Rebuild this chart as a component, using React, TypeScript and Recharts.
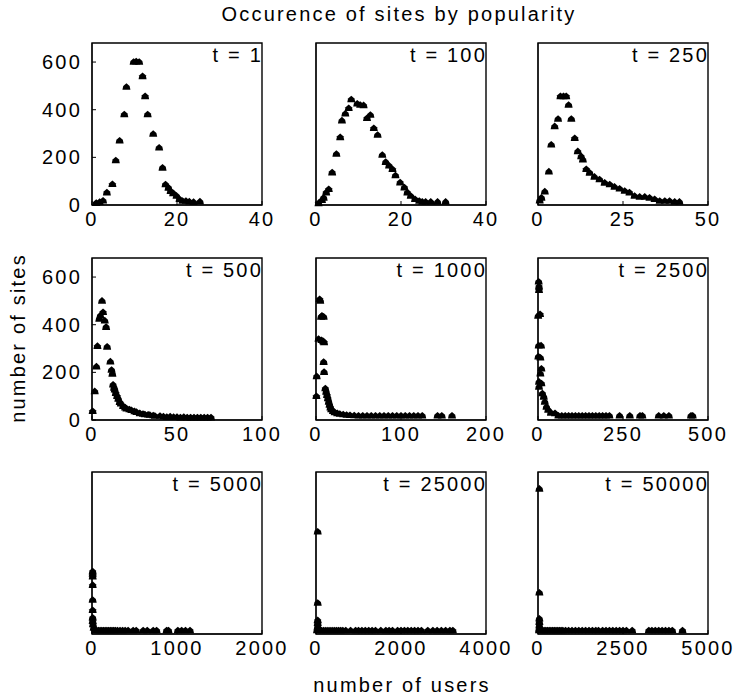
import { ScatterChart, Scatter, XAxis, YAxis, ReferenceArea } from "recharts"

const FONT = '"Liberation Sans", Arial, Helvetica, sans-serif'
const TEXT_STYLE = { fontFamily: FONT, fontSize: 20, letterSpacing: 2.2, fill: "#000" }

// t = 1
const t1Users = [1, 1.8, 2.6, 3.5, 4.8, 5.6, 6.5, 7.6, 8.1, 9.8, 10.4, 11.1, 11.9, 12.5, 13.1, 14.4, 15.8, 16.6, 17.3, 18, 18.5, 19.1, 19.9, 20.6, 21.3, 22.1, 22.9, 23.9, 25.4]
const t1Sites = [8, 12, 18, 52, 87, 187, 270, 380, 495, 600, 602, 600, 540, 456, 380, 298, 240, 156, 86, 72, 58, 49, 38, 24, 17, 17, 14, 12, 14]

// t = 100
const t100Users = [0.6, 1.4, 1.8, 2.4, 3, 3.8, 4.8, 5.7, 6.1, 6.9, 7.7, 8.3, 9.7, 10.4, 11.2, 12, 12.8, 13.6, 14.5, 15.6, 16.4, 17.2, 18, 18.7, 19.8, 20.8, 21.5, 22.3, 23.3, 24.3, 25, 25.8, 27, 28.6, 30.5]
const t100Sites = [7, 20, 30, 52, 66, 136, 214, 284, 354, 383, 406, 443, 425, 420, 418, 364, 378, 322, 294, 210, 180, 165, 150, 124, 94, 73, 52, 38, 24, 17, 13, 13, 13, 13, 13]

// t = 250
const t250Users = [0.5, 1, 2, 3.2, 3.9, 4.9, 5.9, 6.6, 7.5, 8.3, 9, 9.8, 10.8, 11.7, 12.7, 13.2, 14.2, 15.2, 16.6, 18.1, 19.6, 21.1, 22.5, 24, 25.5, 26.9, 28.4, 29.9, 31.4, 32.8, 34.3, 35.8, 37.3, 38.7, 40.2, 41.6]
const t250Sites = [18, 30, 56, 140, 253, 330, 361, 456, 456, 456, 420, 361, 280, 225, 204, 190, 150, 135, 118, 107, 93, 86, 76, 68, 59, 52, 38, 34, 34, 30, 24, 17, 17, 17, 13, 13]

// t = 500
const t500Users = [0.4, 1.6, 2.6, 3.2, 4.3, 4.9, 5.9, 6.5, 7.5, 8.3, 8.9, 10.8, 11.5, 12, 12.4, 13, 13.4, 14, 14.8, 15.5, 16.3, 17, 18.3, 19.5, 20.3, 22, 23.2, 25, 26.2, 28.1, 30, 31.1, 33, 34, 36, 37, 40, 42, 44, 46, 48, 50, 52, 54, 56, 58, 60, 62, 64, 66, 68, 70]
const t500Sites = [37, 120, 224, 310, 424, 438, 500, 452, 417, 390, 307, 245, 210, 193, 148, 135, 127, 112, 100, 88, 75, 68, 58, 52, 47, 44, 41, 36, 33, 28, 25, 23, 22, 21, 19, 17, 17, 14, 12, 14, 12, 12, 10, 12, 10, 10, 10, 10, 10, 10, 10, 10]

// t = 1000
const t1000Users = [0.5, 0.8, 3, 4.3, 5, 6, 7, 9, 6.5, 8.5, 9.5, 9, 9.5, 11, 12, 13, 14, 15, 16, 17, 18, 20, 22, 25, 28, 32, 36, 40, 45, 50, 55, 60, 65, 70, 75, 80, 85, 90, 95, 100, 105, 110, 115, 120, 125, 143, 148, 160]
const t1000Sites = [100, 183, 340, 507, 500, 433, 437, 433, 335, 330, 326, 243, 201, 132, 118, 104, 90, 76, 63, 52, 44, 37, 32, 28, 25, 23, 21, 20, 19, 18, 18, 18, 18, 18, 18, 18, 18, 18, 18, 18, 18, 18, 18, 18, 18, 18, 18, 18]

// t = 2500
const t2500Users = [2, 3, 3, 0.5, 6, 2, 9, 1, 7, 10, 7, 3, 3, 10, 13, 17, 20, 25, 30, 38, 50, 60, 70, 80, 90, 100, 110, 120, 130, 140, 150, 160, 170, 180, 190, 200, 210, 240, 270, 300, 307, 355, 370, 385, 450, 455]
const t2500Sites = [580, 560, 545, 437, 444, 312, 312, 266, 261, 215, 194, 160, 139, 153, 111, 97, 76, 55, 42, 30, 28, 18, 18, 18, 18, 18, 18, 18, 18, 18, 18, 18, 18, 18, 18, 18, 18, 18, 18, 18, 18, 18, 18, 18, 18, 18]

// t = 5000
const t5000Users = [8, 8, 8, 8, 8, 8, 8, 8, 12, 20, 35, 55, 75, 95, 115, 135, 155, 175, 195, 215, 235, 255, 275, 300, 330, 360, 390, 425, 484, 520, 602, 650, 720, 760, 878, 900, 1010, 1055, 1100, 1153]
const t5000Sites = [262, 252, 240, 205, 143, 100, 68, 54, 40, 25, 15, 15, 15, 15, 15, 15, 15, 15, 15, 15, 15, 15, 15, 15, 15, 15, 15, 15, 15, 15, 15, 15, 15, 15, 15, 15, 15, 15, 15, 15]

// t = 25000
const t25000Users = [40, 40, 40, 40, 40, 50, 24, 80, 130, 180, 230, 280, 330, 380, 430, 480, 530, 580, 630, 700, 814, 932, 1000, 1080, 1160, 1240, 1320, 1400, 1525, 1643, 1720, 1800, 1920, 2000, 2080, 2160, 2240, 2320, 2400, 2480, 2630, 2750, 2850, 2950, 3050, 3150, 3220]
const t25000Sites = [429, 130, 57, 45, 31, 21, 15, 15, 15, 15, 15, 15, 15, 15, 15, 15, 15, 15, 15, 15, 15, 15, 15, 15, 15, 15, 15, 15, 15, 15, 15, 15, 15, 15, 15, 15, 15, 15, 15, 15, 15, 15, 15, 15, 15, 15, 15]

// t = 50000
const t50000Users = [40, 40, 40, 40, 40, 40, 30, 80, 130, 180, 230, 280, 330, 380, 430, 480, 530, 580, 630, 680, 730, 810, 900, 1000, 1100, 1200, 1300, 1400, 1500, 1600, 1700, 1780, 1900, 2000, 2100, 2200, 2300, 2400, 2500, 2600, 2770, 3260, 3350, 3450, 3550, 3650, 3750, 3850, 3950, 4250]
const t50000Sites = [609, 173, 64, 50, 35, 21, 15, 15, 15, 15, 15, 15, 15, 15, 15, 15, 15, 15, 15, 15, 15, 15, 15, 15, 15, 15, 15, 15, 15, 15, 15, 15, 15, 15, 15, 15, 15, 15, 15, 15, 15, 15, 15, 15, 15, 15, 15, 15, 15, 15]

const siteTicks = [0, 200, 400, 600]
const Y_MAX = 680

const COL_LEFT = [92, 316, 538]
const ROW_TOP = [43, 258, 472]
const BOX_W = 170
const BOX_H = 162
const AXIS_W = 60
const AXIS_H = 35

const panels = [
  { label: "t = 1", users: t1Users, sites: t1Sites, xTicks: [0, 20, 40], row: 0, col: 0 },
  { label: "t = 100", users: t100Users, sites: t100Sites, xTicks: [0, 20, 40], row: 0, col: 1 },
  { label: "t = 250", users: t250Users, sites: t250Sites, xTicks: [0, 25, 50], row: 0, col: 2 },
  { label: "t = 500", users: t500Users, sites: t500Sites, xTicks: [0, 50, 100], row: 1, col: 0 },
  { label: "t = 1000", users: t1000Users, sites: t1000Sites, xTicks: [0, 100, 200], row: 1, col: 1 },
  { label: "t = 2500", users: t2500Users, sites: t2500Sites, xTicks: [0, 250, 500], row: 1, col: 2 },
  { label: "t = 5000", users: t5000Users, sites: t5000Sites, xTicks: [0, 1000, 2000], row: 2, col: 0 },
  { label: "t = 25000", users: t25000Users, sites: t25000Sites, xTicks: [0, 2000, 4000], row: 2, col: 1 },
  { label: "t = 50000", users: t50000Users, sites: t50000Sites, xTicks: [0, 2500, 5000], row: 2, col: 2 },
]

const Marker = (props: any) => {
  const { cx, cy } = props
  if (cx == null || cy == null) return null
  return (
    <path
      d={`M${cx - 4},${cy + 2.8} L${cx + 4},${cy + 2.8} L${cx + 3.2},${cy - 1} L${cx},${cy - 3.8} L${cx - 3.2},${cy - 1} Z`}
      fill="#000"
    />
  )
}

function Panel({ users, sites, xTicks, row, col }: (typeof panels)[number]) {
  const data = users.map((u, i) => ({ users: u, sites: sites[i] }))
  const xMax = xTicks[xTicks.length - 1]
  const yLabels = col === 0 && row < 2
  const yTickMarks = row < 2
  const tickFont = { fontFamily: FONT, fontSize: 20, letterSpacing: 2.2, fill: "#000" }

  return (
    <div style={{ position: "absolute", left: COL_LEFT[col] - AXIS_W, top: ROW_TOP[row] - 5 }}>
      <ScatterChart
        width={AXIS_W + BOX_W + 30}
        height={5 + BOX_H + AXIS_H}
        margin={{ top: 5, right: 30, bottom: 0, left: 0 }}
      >
        <XAxis
          type="number"
          dataKey="users"
          domain={[0, xMax]}
          ticks={xTicks}
          interval={0}
          height={AXIS_H}
          tickSize={-4}
          tickMargin={11}
          stroke="#000"
          tick={tickFont}
        />
        <YAxis
          type="number"
          dataKey="sites"
          domain={[0, Y_MAX]}
          ticks={siteTicks}
          interval={0}
          width={AXIS_W}
          tickSize={-4}
          tickMargin={14}
          tickLine={yTickMarks}
          tick={yLabels ? tickFont : false}
          stroke="#000"
        />
        <ReferenceArea
          x1={0}
          x2={xMax}
          y1={0}
          y2={Y_MAX}
          fill="none"
          fillOpacity={0}
          stroke="#000"
          strokeWidth={1.4}
          strokeOpacity={1}
        />
        <Scatter data={data} fill="#000" shape={Marker} isAnimationActive={false} />
      </ScatterChart>
    </div>
  )
}

export default function App() {
  return (
    <div style={{ position: "absolute", left: 0, top: 0, width: 735, height: 697, background: "#fff" }}>
      {panels.map((p) => (
        <Panel key={p.label} {...p} />
      ))}
      <svg
        width={735}
        height={697}
        style={{ position: "absolute", left: 0, top: 0, pointerEvents: "none" }}
      >
        <text x={399} y={21} textAnchor="middle" style={TEXT_STYLE}>
          Occurence of sites by popularity
        </text>
        <text x={402} y={692} textAnchor="middle" style={TEXT_STYLE}>
          number of users
        </text>
        <text transform="translate(25,338) rotate(-90)" textAnchor="middle" style={TEXT_STYLE}>
          number of sites
        </text>
        {panels.map((p) => (
          <text
            key={p.label}
            x={COL_LEFT[p.col] + BOX_W + 1}
            y={ROW_TOP[p.row] + 19}
            textAnchor="end"
            style={TEXT_STYLE}
          >
            {p.label}
          </text>
        ))}
      </svg>
    </div>
  )
}
